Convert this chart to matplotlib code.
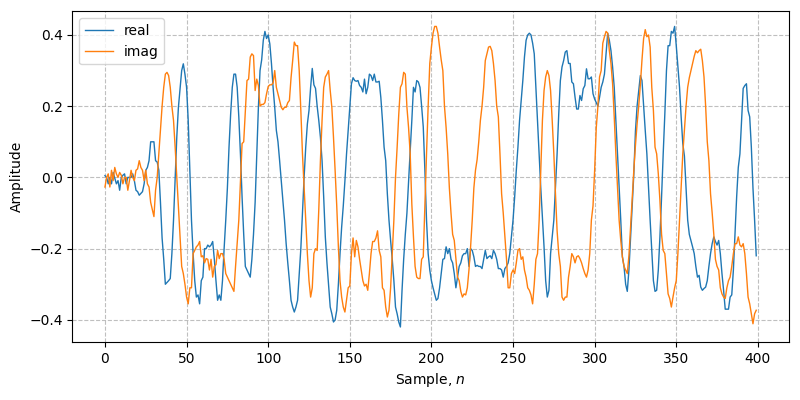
import numpy as np
import matplotlib
matplotlib.use("Agg")
import matplotlib.pyplot as plt

real = [
 0.005, 0.0, -0.018, 0.0, -0.018, 0.014, -0.002, -0.018, -0.009, -0.036,
 0.0, 0.006, 0.01, -0.018, 0.0, 0.0, 0.0, 0.01, -0.009, -0.036,
 -0.04, -0.05, -0.045, -0.04, -0.018, 0.02, 0.028, 0.047, 0.1, 0.1,
 0.1, 0.047, 0.043, 0.02, -0.07, -0.17, -0.23, -0.3, -0.295, -0.29,
 -0.284, -0.214, -0.12, 0.0, 0.113, 0.197, 0.25, 0.3, 0.319, 0.29,
 0.253, 0.16, 0.02, -0.12, -0.214, -0.29, -0.336, -0.33, -0.355, -0.29,
 -0.28, -0.2, -0.2, -0.19, -0.195, -0.19, -0.18, -0.23, -0.29, -0.345,
 -0.33, -0.345, -0.29, -0.2, -0.12, -0.03, 0.085, 0.178, 0.253, 0.29,
 0.29, 0.253, 0.17, 0.066, -0.055, -0.16, -0.25, -0.26, -0.27, -0.28,
 -0.23, -0.16, -0.07, 0.066, 0.197, 0.3, 0.33, 0.385, 0.41, 0.39,
 0.4, 0.375, 0.32, 0.253, 0.197, 0.132, 0.1, 0.047, -0.01, -0.065,
 -0.12, -0.186, -0.24, -0.29, -0.345, -0.364, -0.378, -0.364, -0.345, -0.27,
 -0.2, -0.1, 0.0, 0.085, 0.15, 0.188, 0.253, 0.306, 0.26, 0.25,
 0.2, 0.16, 0.113, 0.047, -0.055, -0.167, -0.24, -0.3, -0.364, -0.383,
 -0.406, -0.4, -0.373, -0.3, -0.214, -0.14, -0.08, -0.01, 0.066, 0.132,
 0.2, 0.263, 0.28, 0.272, 0.27, 0.272, 0.258, 0.253, 0.24, 0.276,
 0.235, 0.253, 0.29, 0.286, 0.272, 0.29, 0.268, 0.268, 0.27, 0.225,
 0.16, 0.085, 0.047, -0.046, -0.12, -0.177, -0.23, -0.29, -0.364, -0.383,
 -0.406, -0.42, -0.317, -0.23, -0.16, -0.1, -0.01, 0.075, 0.16, 0.253,
 0.24, 0.272, 0.268, 0.253, 0.2, 0.142, 0.02, -0.12, -0.214, -0.26,
 -0.29, -0.31, -0.327, -0.345, -0.34, -0.31, -0.27, -0.23, -0.228, -0.195,
 -0.214, -0.2, -0.23, -0.24, -0.27, -0.31, -0.28, -0.25, -0.24, -0.22,
 -0.214, -0.214, -0.2, -0.25, -0.2, -0.205, -0.223, -0.25, -0.247, -0.25,
 -0.25, -0.256, -0.23, -0.205, -0.228, -0.223, -0.22, -0.228, -0.205, -0.214,
 -0.23, -0.256, -0.256, -0.26, -0.28, -0.256, -0.25, -0.24, -0.214, -0.167,
 -0.12, -0.055, 0.02, 0.085, 0.16, 0.216, 0.272, 0.338, 0.385, 0.4,
 0.405, 0.4, 0.377, 0.347, 0.253, 0.16, 0.066, -0.03, -0.11, -0.195,
 -0.29, -0.336, -0.317, -0.214, -0.167, -0.12, -0.03, 0.066, 0.178, 0.272,
 0.31, 0.328, 0.352, 0.356, 0.32, 0.32, 0.268, 0.263, 0.225, 0.192,
 0.192, 0.23, 0.216, 0.249, 0.258, 0.305, 0.277, 0.277, 0.282, 0.235,
 0.22, 0.21, 0.2, 0.225, 0.253, 0.268, 0.29, 0.347, 0.405, 0.385,
 0.356, 0.31, 0.253, 0.16, 0.066, -0.03, -0.12, -0.223, -0.25, -0.3,
 -0.32, -0.26, -0.167, -0.08, 0.01, 0.13, 0.2, 0.244, 0.286, 0.272,
 0.2, 0.132, 0.066, -0.03, -0.12, -0.205, -0.29, -0.32, -0.317, -0.26,
 -0.167, -0.055, 0.066, 0.178, 0.3, 0.37, 0.37, 0.41, 0.405, 0.424,
 0.37, 0.31, 0.253, 0.17, 0.095, 0.06, -0.03, -0.12, -0.16, -0.177,
 -0.195, -0.214, -0.25, -0.28, -0.275, -0.308, -0.317, -0.312, -0.308, -0.29,
 -0.25, -0.214, -0.186, -0.167, -0.18, -0.19, -0.177, -0.214, -0.27, -0.317,
 -0.37, -0.37, -0.37, -0.336, -0.33, -0.26, -0.16, -0.055, 0.028, 0.066,
 0.16, 0.25, 0.258, 0.263, 0.188, 0.17, 0.085, -0.03, -0.12, -0.22,
]

imag = [
 -0.027, 0.0, 0.01, -0.027, 0.02, -0.009, 0.028, 0.01, 0.0, 0.014,
 0.006, -0.018, 0.0, 0.0, -0.036, -0.009, 0.02, 0.0, -0.009, 0.02,
 0.024, 0.047, 0.028, 0.02, -0.009, 0.02, -0.018, -0.027, -0.07, -0.09,
 -0.11, -0.036, 0.0, 0.066, 0.132, 0.2, 0.253, 0.29, 0.295, 0.286,
 0.253, 0.2, 0.16, 0.085, 0.0, -0.085, -0.167, -0.25, -0.27, -0.3,
 -0.336, -0.355, -0.31, -0.31, -0.214, -0.205, -0.195, -0.19, -0.18, -0.223,
 -0.22, -0.24, -0.228, -0.23, -0.26, -0.23, -0.28, -0.25, -0.245, -0.205,
 -0.228, -0.214, -0.214, -0.23, -0.27, -0.28, -0.29, -0.3, -0.31, -0.32,
 -0.25, -0.186, -0.12, -0.01, 0.095, 0.1, 0.188, 0.272, 0.276, 0.338,
 0.347, 0.342, 0.244, 0.276, 0.258, 0.2, 0.205, 0.205, 0.21, 0.235,
 0.255, 0.26, 0.26, 0.265, 0.3, 0.253, 0.235, 0.216, 0.197, 0.19,
 0.197, 0.197, 0.21, 0.216, 0.28, 0.328, 0.38, 0.37, 0.37, 0.3,
 0.188, 0.066, -0.03, -0.12, -0.214, -0.29, -0.336, -0.31, -0.214, -0.2,
 -0.205, -0.09, 0.047, 0.16, 0.253, 0.282, 0.29, 0.3, 0.244, 0.197,
 0.113, 0.02, -0.08, -0.195, -0.29, -0.336, -0.364, -0.378, -0.345, -0.31,
 -0.305, -0.214, -0.17, -0.223, -0.177, -0.195, -0.23, -0.26, -0.29, -0.305,
 -0.3, -0.317, -0.27, -0.214, -0.18, -0.18, -0.17, -0.15, -0.205, -0.223,
 -0.31, -0.317, -0.364, -0.392, -0.373, -0.31, -0.214, -0.12, 0.0, 0.085,
 0.178, 0.253, 0.263, 0.295, 0.29, 0.197, 0.14, 0.066, -0.075, -0.167,
 -0.25, -0.28, -0.284, -0.284, -0.23, -0.223, -0.075, 0.066, 0.2, 0.32,
 0.366, 0.405, 0.424, 0.424, 0.405, 0.366, 0.33, 0.3, 0.2, 0.14,
 0.066, -0.03, -0.1, -0.16, -0.177, -0.23, -0.28, -0.29, -0.32, -0.336,
 -0.327, -0.33, -0.31, -0.26, -0.195, -0.12, -0.03, 0.02, 0.05, 0.1,
 0.16, 0.2, 0.253, 0.328, 0.347, 0.366, 0.368, 0.356, 0.32, 0.272,
 0.2, 0.17, 0.066, -0.046, -0.1, -0.167, -0.23, -0.31, -0.31, -0.27,
 -0.26, -0.27, -0.24, -0.205, -0.2, -0.23, -0.223, -0.26, -0.28, -0.31,
 -0.317, -0.33, -0.355, -0.3, -0.23, -0.214, -0.12, 0.02, 0.16, 0.244,
 0.282, 0.3, 0.286, 0.244, 0.16, 0.066, -0.046, -0.15, -0.214, -0.25,
 -0.336, -0.345, -0.336, -0.336, -0.28, -0.25, -0.214, -0.223, -0.24, -0.223,
 -0.22, -0.228, -0.24, -0.256, -0.27, -0.28, -0.26, -0.214, -0.12, -0.08,
 0.02, 0.14, 0.2, 0.282, 0.3, 0.377, 0.395, 0.41, 0.405, 0.356,
 0.32, 0.263, 0.17, 0.066, -0.03, -0.12, -0.177, -0.223, -0.25, -0.26,
 -0.27, -0.22, -0.14, -0.06, 0.02, 0.09, 0.15, 0.2, 0.26, 0.33,
 0.39, 0.415, 0.395, 0.4, 0.366, 0.253, 0.188, 0.085, 0.066, 0.01,
 -0.065, -0.16, -0.205, -0.214, -0.27, -0.327, -0.34, -0.364, -0.336, -0.31,
 -0.29, -0.214, -0.12, -0.03, 0.066, 0.132, 0.2, 0.253, 0.28, 0.3,
 0.32, 0.34, 0.356, 0.35, 0.356, 0.36, 0.328, 0.282, 0.2, 0.1,
 0.047, -0.046, -0.1, -0.16, -0.23, -0.25, -0.26, -0.31, -0.327, -0.336,
 -0.34, -0.31, -0.29, -0.28, -0.25, -0.214, -0.186, -0.186, -0.167, -0.19,
 -0.195, -0.186, -0.214, -0.27, -0.336, -0.355, -0.383, -0.411, -0.383, -0.373,
]

n = np.arange(len(real))

fig = plt.figure(figsize=(8, 4), dpi=100)
ax = fig.add_axes([0.0905, 0.145, 0.8955, 0.8265])
ax.plot(n, real, label="real", linewidth=1.0)
ax.plot(n, imag, label="imag", linewidth=1.0)
ax.set_xlabel("Sample, $n$")
ax.set_ylabel("Amplitude")
ax.grid(True, linestyle="--", color="#b0b0b0", alpha=0.8)
ax.legend(loc="upper left")
fig.savefig("out.png")
